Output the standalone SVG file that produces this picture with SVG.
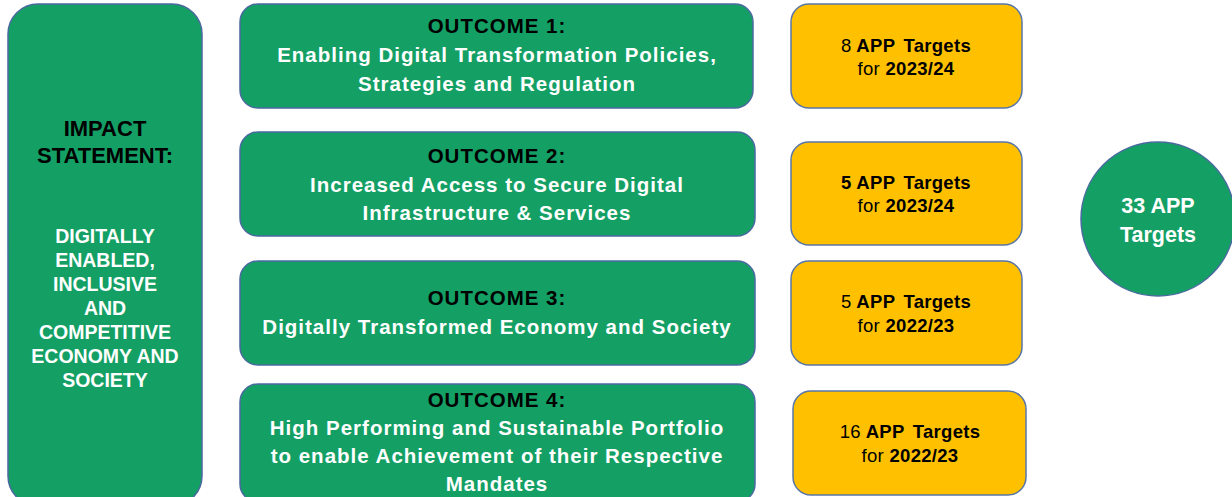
<svg xmlns="http://www.w3.org/2000/svg" width="1232" height="497" viewBox="0 0 1232 497">
  <style>
    .green { fill: #149F65; stroke: #4A6A9E; stroke-width: 1.5; }
    .gold { fill: #FFC000; stroke: #5A76A6; stroke-width: 1.5; }
    text { font-family: "Liberation Sans", Arial, sans-serif; font-weight: bold; text-anchor: middle; }
    .head { fill: #000000; font-size: 20.5px; letter-spacing: 1px; }
    .body { fill: #FFFFFF; font-size: 20.5px; letter-spacing: 1px; }
    .imp { fill: #000000; font-size: 22px; }
    .impw { fill: #FFFFFF; font-size: 19.5px; }
    .tgt { fill: #000000; font-size: 18.5px; letter-spacing: 0.3px; }
    .reg { font-weight: normal; }
    .total { fill: #FFFFFF; font-size: 21.5px; }
  </style>

  <!-- impact statement column -->
  <g id="impact">
    <rect class="green" x="8" y="4" width="194" height="502" rx="30" ry="30"/>
    <text class="imp" x="105" y="136">IMPACT</text>
    <text class="imp" x="105" y="163">STATEMENT:</text>
    <text class="impw" x="105" y="243">DIGITALLY</text>
    <text class="impw" x="105" y="267">ENABLED,</text>
    <text class="impw" x="105" y="291">INCLUSIVE</text>
    <text class="impw" x="105" y="315">AND</text>
    <text class="impw" x="105" y="339">COMPETITIVE</text>
    <text class="impw" x="105" y="363">ECONOMY AND</text>
    <text class="impw" x="105" y="387">SOCIETY</text>
  </g>

  <!-- outcomes -->
  <g id="outcome1">
    <rect class="green" x="240" y="4" width="513" height="104" rx="18" ry="18"/>
    <text class="head" x="497" y="33">OUTCOME 1:</text>
    <text class="body" x="497" y="62">Enabling Digital Transformation Policies,</text>
    <text class="body" x="497" y="91">Strategies and Regulation</text>
  </g>
  <g id="outcome2">
    <rect class="green" x="240" y="132" width="515" height="104" rx="18" ry="18"/>
    <text class="head" x="497" y="163">OUTCOME 2:</text>
    <text class="body" x="497" y="192">Increased Access to Secure Digital</text>
    <text class="body" x="497" y="220">Infrastructure &amp; Services</text>
  </g>
  <g id="outcome3">
    <rect class="green" x="240" y="261" width="515" height="104" rx="18" ry="18"/>
    <text class="head" x="497" y="305">OUTCOME 3:</text>
    <text class="body" x="497" y="334">Digitally Transformed Economy and Society</text>
  </g>
  <g id="outcome4">
    <rect class="green" x="240" y="384" width="515" height="118" rx="18" ry="18"/>
    <text class="head" x="497" y="407">OUTCOME 4:</text>
    <text class="body" x="497" y="435">High Performing and Sustainable Portfolio</text>
    <text class="body" x="497" y="463">to enable Achievement of their Respective</text>
    <text class="body" x="497" y="491">Mandates</text>
  </g>

  <!-- annual performance plan targets -->
  <g id="targets1">
    <rect class="gold" x="791" y="4" width="231" height="104" rx="18" ry="18"/>
    <text class="tgt" x="906" y="52"><tspan class="reg">8</tspan> APP <tspan dx="3">Targets</tspan></text>
    <text class="tgt" x="906" y="75"><tspan class="reg">for</tspan> 2023/24</text>
  </g>
  <g id="targets2">
    <rect class="gold" x="791" y="142" width="231" height="103" rx="18" ry="18"/>
    <text class="tgt" x="906" y="189">5 APP <tspan dx="3">Targets</tspan></text>
    <text class="tgt" x="906" y="212"><tspan class="reg">for</tspan> 2023/24</text>
  </g>
  <g id="targets3">
    <rect class="gold" x="791" y="261" width="231" height="104" rx="18" ry="18"/>
    <text class="tgt" x="906" y="308"><tspan class="reg">5</tspan> APP <tspan dx="3">Targets</tspan></text>
    <text class="tgt" x="906" y="332"><tspan class="reg">for</tspan> 2022/23</text>
  </g>
  <g id="targets4">
    <rect class="gold" x="793" y="391" width="233" height="104" rx="18" ry="18"/>
    <text class="tgt" x="910" y="438"><tspan class="reg">16</tspan> APP <tspan dx="3">Targets</tspan></text>
    <text class="tgt" x="910" y="462"><tspan class="reg">for</tspan> 2022/23</text>
  </g>

  <!-- total -->
  <g id="total">
    <circle class="green" cx="1158" cy="219" r="77"/>
    <text class="total" x="1158" y="213">33 APP</text>
    <text class="total" x="1158" y="242">Targets</text>
  </g>

  <g id="connectors"/>
</svg>
